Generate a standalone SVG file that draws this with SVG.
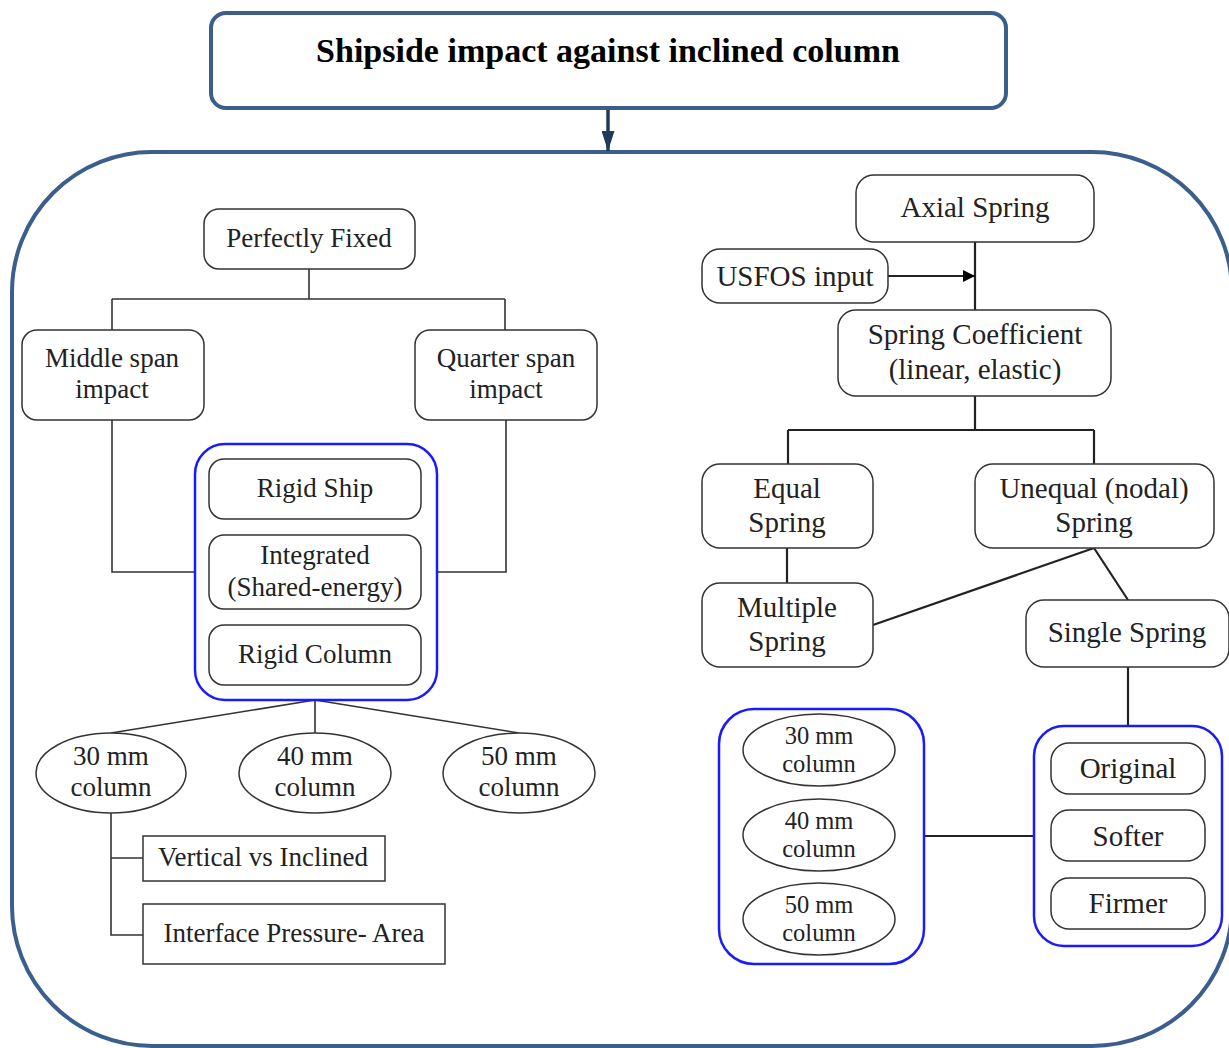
<svg xmlns="http://www.w3.org/2000/svg" width="1229" height="1048" viewBox="0 0 1229 1048">
<defs>
<style>
.t{font-family:"Liberation Serif","Times New Roman",serif;font-size:27px;fill:#222;text-anchor:middle}
.tr{font-family:"Liberation Serif","Times New Roman",serif;font-size:29px;fill:#222;text-anchor:middle}
.ts{font-family:"Liberation Serif","Times New Roman",serif;font-size:24.5px;fill:#222;text-anchor:middle}
.title{font-family:"Liberation Serif","Times New Roman",serif;font-size:34px;font-weight:bold;fill:#000;text-anchor:middle}
.n{fill:#fff;stroke:#333;stroke-width:1.5}
.grp{fill:none;stroke:#1a1aff;stroke-width:2.5}
.c{fill:none;stroke:#222;stroke-width:2.2}
.cl{fill:none;stroke:#333;stroke-width:1.6}
</style>
<marker id="ah" viewBox="0 0 10 10" refX="10" refY="5" markerWidth="12" markerHeight="12" markerUnits="userSpaceOnUse" orient="auto">
<path d="M0,0 L10,5 L0,10 z" fill="#000"/>
</marker>
<marker id="ahb" viewBox="0 0 10 10" refX="10" refY="5" markerWidth="20" markerHeight="13" markerUnits="userSpaceOnUse" orient="auto" preserveAspectRatio="none">
<path d="M0,0 L10,5 L0,10 z" fill="#1f3a5f"/>
</marker>
</defs>
<rect width="1229" height="1048" fill="#fff"/>

<g id="container">
<rect x="12" y="152" width="1220" height="894" rx="140" ry="140" fill="none" stroke="#3b5e8c" stroke-width="4"/>
</g>

<g id="connectors">
<line x1="608" y1="108" x2="608" y2="151" stroke="#1f3a5f" stroke-width="3.5" marker-end="url(#ahb)"/>
<path class="cl" d="M309,269 V299 M112,299 H505 M112,299 V330 M505,299 V330"/>
<path class="cl" d="M112,420 V572 H195 M506,420 V572 H437"/>
<path class="cl" d="M315,700 L111,733 M315,700 V733 M315,700 L519,733"/>
<path class="cl" d="M111,813 V935 H143 M111,858 H143"/>
<line class="c" x1="975" y1="242" x2="975" y2="310"/>
<line class="c" x1="888" y1="276" x2="975" y2="276" marker-end="url(#ah)"/>
<path class="c" d="M975,396 V430 M788,430 H1094 M788,430 V464 M1094,430 V464"/>
<path class="c" d="M787,548 V583 M1094,548 L873,625 M1094,548 L1128,600 M1128,667 V726"/>
<line class="c" x1="924" y1="836" x2="1034" y2="836"/>
</g>

<g id="title">
<rect x="211" y="13" width="795" height="95" rx="15" fill="#fff" stroke="#3b5e8c" stroke-width="4"/>
<text class="title" x="608" y="62">Shipside impact against inclined column</text>
</g>

<g id="perfectly-fixed"><rect class="n" x="204" y="209" width="211" height="60" rx="15"/><text class="t" x="309" y="247">Perfectly Fixed</text></g>
<g id="middle-span"><rect class="n" x="22" y="330" width="182" height="90" rx="15"/><text class="t" x="112" y="367">Middle span</text><text class="t" x="112" y="398">impact</text></g>
<g id="quarter-span"><rect class="n" x="415" y="330" width="182" height="90" rx="15"/><text class="t" x="506" y="367">Quarter span</text><text class="t" x="506" y="398">impact</text></g>

<g id="rigid-group"><rect class="grp" x="195" y="444" width="242" height="256" rx="30"/></g>
<g id="rigid-ship"><rect class="n" x="209" y="459" width="212" height="60" rx="15"/><text class="t" x="315" y="497">Rigid Ship</text></g>
<g id="integrated"><rect class="n" x="209" y="535" width="212" height="74" rx="15"/><text class="t" x="315" y="564">Integrated</text><text class="t" x="315" y="596">(Shared-energy)</text></g>
<g id="rigid-column"><rect class="n" x="209" y="625" width="212" height="60" rx="15"/><text class="t" x="315" y="663">Rigid Column</text></g>

<g id="col30"><ellipse class="n" cx="111" cy="773" rx="75" ry="40"/><text class="t" x="111" y="765">30 mm</text><text class="t" x="111" y="796">column</text></g>
<g id="col40"><ellipse class="n" cx="315" cy="773" rx="76" ry="40"/><text class="t" x="315" y="765">40 mm</text><text class="t" x="315" y="796">column</text></g>
<g id="col50"><ellipse class="n" cx="519" cy="773" rx="76" ry="40"/><text class="t" x="519" y="765">50 mm</text><text class="t" x="519" y="796">column</text></g>

<g id="vertical-inclined"><rect class="n" x="143" y="836" width="242" height="45"/><text class="t" x="263" y="866">Vertical vs Inclined</text></g>
<g id="interface-pressure"><rect class="n" x="143" y="904" width="302" height="60"/><text class="t" x="294" y="942">Interface Pressure- Area</text></g>

<g id="axial-spring"><rect class="n" x="856" y="175" width="238" height="67" rx="18"/><text class="tr" x="975" y="217">Axial Spring</text></g>
<g id="usfos-input"><rect class="n" x="702" y="249" width="186" height="54" rx="18"/><text class="tr" x="795" y="286">USFOS input</text></g>
<g id="spring-coefficient"><rect class="n" x="838" y="310" width="273" height="86" rx="18"/><text class="tr" x="975" y="344">Spring Coefficient</text><text class="tr" x="975" y="379">(linear, elastic)</text></g>
<g id="equal-spring"><rect class="n" x="702" y="464" width="171" height="84" rx="18"/><text class="tr" x="787" y="498">Equal</text><text class="tr" x="787" y="532">Spring</text></g>
<g id="unequal-spring"><rect class="n" x="975" y="464" width="239" height="84" rx="18"/><text class="tr" x="1094" y="498">Unequal (nodal)</text><text class="tr" x="1094" y="532">Spring</text></g>
<g id="multiple-spring"><rect class="n" x="702" y="583" width="171" height="84" rx="18"/><text class="tr" x="787" y="617">Multiple</text><text class="tr" x="787" y="651">Spring</text></g>
<g id="single-spring"><rect class="n" x="1026" y="600" width="203" height="67" rx="18"/><text class="tr" x="1127" y="642">Single Spring</text></g>

<g id="stiffness-group"><rect class="grp" x="1034" y="726" width="188" height="220" rx="30"/></g>
<g id="original"><rect class="n" x="1051" y="743" width="154" height="51" rx="18"/><text class="tr" x="1128" y="778">Original</text></g>
<g id="softer"><rect class="n" x="1051" y="810" width="154" height="51" rx="18"/><text class="tr" x="1128" y="846">Softer</text></g>
<g id="firmer"><rect class="n" x="1051" y="878" width="154" height="51" rx="18"/><text class="tr" x="1128" y="913">Firmer</text></g>

<g id="columns-group"><rect class="grp" x="719" y="709" width="205" height="255" rx="35"/></g>
<g id="r-col30"><ellipse class="n" cx="819" cy="750" rx="76" ry="36"/><text class="ts" x="819" y="744">30 mm</text><text class="ts" x="819" y="772">column</text></g>
<g id="r-col40"><ellipse class="n" cx="819" cy="835" rx="76" ry="36"/><text class="ts" x="819" y="829">40 mm</text><text class="ts" x="819" y="857">column</text></g>
<g id="r-col50"><ellipse class="n" cx="819" cy="919" rx="76" ry="36"/><text class="ts" x="819" y="913">50 mm</text><text class="ts" x="819" y="941">column</text></g>
</svg>
